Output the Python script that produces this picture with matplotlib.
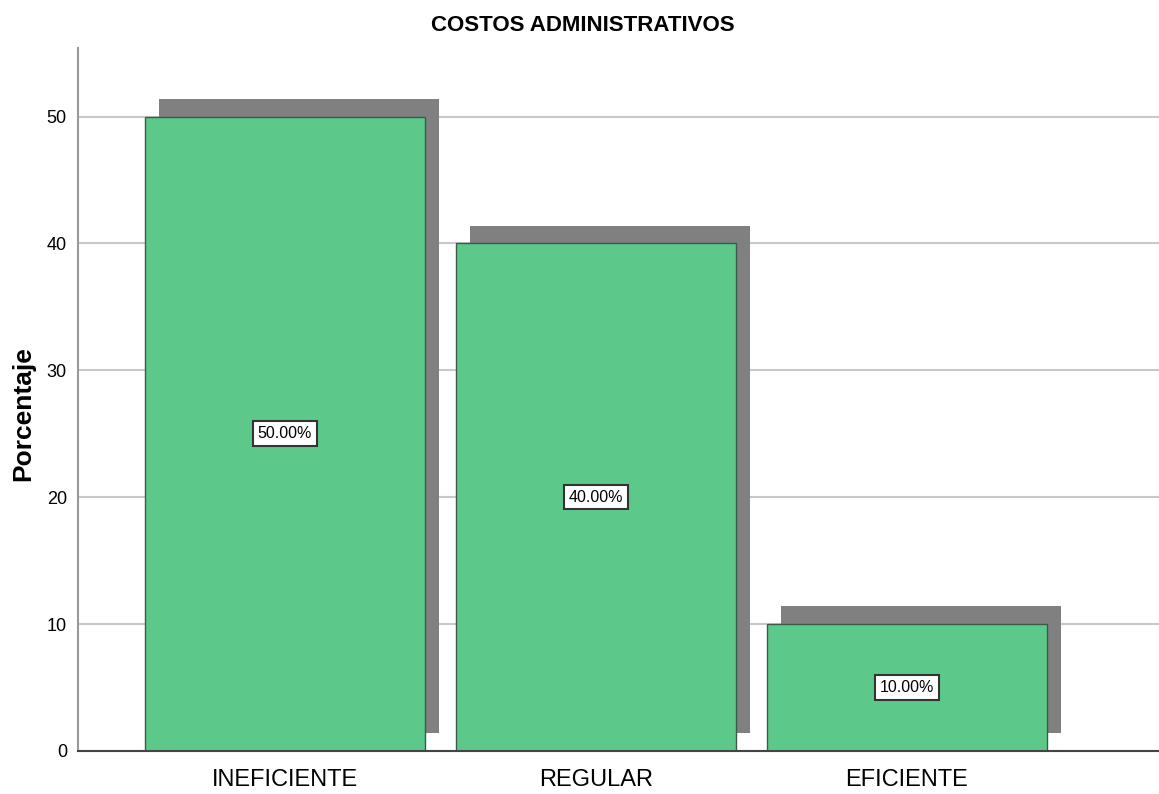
import matplotlib.pyplot as plt

# Data
categorias = ['INEFICIENTE', 'REGULAR', 'EFICIENTE']
porcentajes = [50.0, 40.0, 10.0]
etiquetas = ['50.00%', '40.00%', '10.00%']
y_ticks = [0, 10, 20, 30, 40, 50]

plt.rcParams['font.family'] = ['Liberation Sans Narrow', 'Liberation Sans', 'DejaVu Sans']

fig = plt.figure(figsize=(11.59, 7.94), dpi=100)
ax = fig.add_axes([0.0673, 0.0542, 0.9327, 0.8853])

x = list(range(len(categorias)))
ancho = 0.9

# grid behind everything
for t in y_ticks[1:]:
    ax.axhline(t, color='#c8c8c8', lw=1.5, zorder=0)

# shadow bars
ax.bar([i + 0.045 for i in x], porcentajes, width=ancho, bottom=1.4,
       color='#808080', edgecolor='none', zorder=1)
# main bars
ax.bar(x, porcentajes, width=ancho, color='#5cc98a', edgecolor='#3c5a48',
       linewidth=1, zorder=2)

for i, v in enumerate(porcentajes):
    ax.text(i, v / 2, etiquetas[i], ha='center', va='center', fontsize=11.5,
            zorder=3,
            bbox=dict(boxstyle='square,pad=0.3', facecolor='white',
                      edgecolor='#333333', linewidth=1.5))

ax.set_xlim(-0.664, 2.81)
ax.set_ylim(0, 55.4)
ax.set_xticks(x)
ax.set_xticklabels(categorias, fontsize=17)
ax.set_yticks(y_ticks)
ax.set_yticklabels([str(t) for t in y_ticks], fontsize=13)
ax.tick_params(length=0, pad=8)
ax.tick_params(axis='x', pad=13)

ax.spines['top'].set_visible(False)
ax.spines['right'].set_visible(False)
ax.spines['left'].set_color('#999999')
ax.spines['left'].set_linewidth(1.5)
ax.spines['bottom'].set_color('#444444')
ax.spines['bottom'].set_linewidth(1.5)

ax.set_ylabel('Porcentaje', fontsize=19, fontweight='bold',
              family=['Liberation Sans', 'DejaVu Sans'])
ax.yaxis.set_label_coords(-0.04, 0.48)

fig.text(0.503, 0.968, 'COSTOS ADMINISTRATIVOS', ha='center', va='center',
         fontsize=16, fontweight='bold')

plt.savefig('out.png', dpi=100)
